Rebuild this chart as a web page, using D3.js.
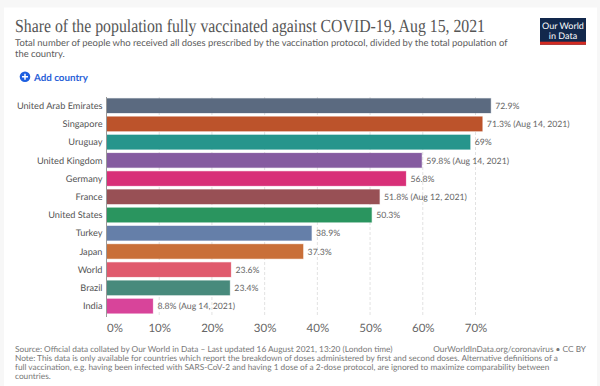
<!DOCTYPE html>
<html>
<head>
<meta charset="utf-8">
<script src="https://cdn.jsdelivr.net/npm/d3@7"></script>
<style>
  html, body { margin: 0; padding: 0; background: #f7f7f7; overflow: hidden; }
  svg { display: block; }
  text { font-family: Lato, "Open Sans", sans-serif; text-rendering: geometricPrecision; }
</style>
</head>
<body>
<svg id="chart" width="600" height="386"></svg>
<script>
const countries = ["United Arab Emirates", "Singapore", "Uruguay", "United Kingdom", "Germany", "France",
  "United States", "Turkey", "Japan", "World", "Brazil", "India"];
const shares = [72.9, 71.3, 69, 59.8, 56.8, 51.8, 50.3, 38.9, 37.3, 23.6, 23.4, 8.8];
const dates = ["", "Aug 14, 2021", "", "Aug 14, 2021", "", "Aug 12, 2021", "", "", "", "", "", "Aug 14, 2021"];
const colors = ["#5b6a80", "#bc532b", "#26958c", "#855ba0", "#d82f78", "#985055",
  "#2a955f", "#657fa9", "#c96f38", "#e05a6d", "#488a7c", "#d8449a"];
const x_ticks = [0, 10, 20, 30, 40, 50, 60, 70];

const note_lines = [
  "Note: This data is only available for countries which report the breakdown of doses administered by first and second doses. Alternative definitions of a",
  "full vaccination, e.g. having been infected with SARS-CoV-2 and having 1 dose of a 2-dose protocol, are ignored to maximize comparability between",
  "countries."
];

const svg = d3.select("#chart");

const d3_x = d3.scaleLinear().domain([0, 70]).range([106.5, 475.5]);
const d3_y = d3.scaleBand().domain(countries).range([96.6, 315.2]).paddingInner(0.2).paddingOuter(0.1);

// card
svg.append("rect")
  .attr("x", 4).attr("y", 7.5).attr("width", 593).attr("height", 379)
  .style("fill", "white");

// header
svg.append("text")
  .attr("x", 15).attr("y", 31.5)
  .attr("textLength", 470).attr("lengthAdjust", "spacingAndGlyphs")
  .style("font-family", "'Liberation Serif', serif")
  .style("font-size", "18.5px")
  .style("fill", "#555")
  .text("Share of the population fully vaccinated against COVID-19, Aug 15, 2021");

const sub = svg.append("g").style("font-size", "9.43px").style("fill", "#5b5b5b");
sub.append("text").attr("x", 15).attr("y", 45.5)
  .text("Total number of people who received all doses prescribed by the vaccination protocol, divided by the total population of");
sub.append("text").attr("x", 15).attr("y", 56.5).text("the country.");

// logo
const logo = svg.append("g");
logo.append("rect").attr("x", 540).attr("y", 18).attr("width", 46).attr("height", 26.7).style("fill", "#12284c");
logo.append("rect").attr("x", 540).attr("y", 41.7).attr("width", 46).attr("height", 3).style("fill", "#d42b21");
logo.selectAll("text").data(["Our World", "in Data"]).join("text")
  .attr("x", 563).attr("y", (d, i) => 28.6 + i * 10.8)
  .style("text-anchor", "middle").style("font-size", "9px").style("fill", "white")
  .text(d => d);

// add country
const add = svg.append("g");
add.append("circle").attr("cx", 25).attr("cy", 76.7).attr("r", 5.3).style("fill", "#1d5fe0");
add.append("path").attr("d", "M22 76.7H28M25 73.7V79.7").style("stroke", "white").style("stroke-width", 1.5);
add.append("text").attr("x", 34).attr("y", 80.5)
  .style("font-size", "9.8px").style("font-weight", "bold").style("fill", "#2a62d8")
  .text("Add country");

// grid
svg.append("g").selectAll("line").data(x_ticks.slice(1)).join("line")
  .attr("x1", d => d3_x(d)).attr("x2", d => d3_x(d))
  .attr("y1", 97).attr("y2", 317)
  .style("stroke", "#e2e2e2").style("stroke-dasharray", "3,2");

// x axis
const x_axis = svg.append("g")
  .attr("transform", "translate(0,321)")
  .call(d3.axisBottom(d3_x).tickValues(x_ticks).tickFormat(d => d + "%").tickSize(0));
x_axis.select(".domain").remove();
x_axis.selectAll("text")
  .style("font-size", "11.5px").style("fill", "#666").style("font-family", "Lato")
  .style("text-anchor", d => d === 0 ? "start" : "middle");

// bars
const bar = svg.append("g").selectAll("g.bar")
  .data(countries.map((name, i) => ({ name, value: shares[i], date: dates[i], color: colors[i] })))
  .join("g")
  .attr("class", "bar")
  .attr("transform", d => "translate(0," + d3_y(d.name) + ")");

bar.append("rect")
  .attr("x", d3_x(0))
  .attr("width", d => d3_x(d.value) - d3_x(0))
  .attr("height", d3_y.bandwidth())
  .style("fill", d => d.color)
  .style("stroke", d => d.color)
  .style("stroke-opacity", 0.3);

bar.append("text")
  .attr("class", "name_label")
  .attr("x", 102.5)
  .attr("y", d3_y.bandwidth() / 2 + 3.2)
  .style("text-anchor", "end")
  .style("font-size", "9.2px")
  .style("fill", "#555")
  .text(d => d.name);

bar.append("text")
  .attr("class", "value_label")
  .attr("x", d => d3_x(d.value) + 4.5)
  .attr("y", d3_y.bandwidth() / 2 + 3.2)
  .style("font-size", "8.7px")
  .style("fill", "#666")
  .text(d => d.value + "%" + (d.date ? " (" + d.date + ")" : ""));

// y axis line
svg.append("line")
  .attr("x1", d3_x(0)).attr("x2", d3_x(0))
  .attr("y1", 97).attr("y2", 317)
  .style("stroke", "#999");

// footer
const foot = svg.append("g").style("font-size", "8.3px").style("fill", "#777");
foot.append("text").attr("x", 15).attr("y", 352)
  .text("Source: Official data collated by Our World in Data \u2013 Last updated 16 August 2021, 13:20 (London time)");
foot.append("text").attr("x", 586).attr("y", 352).style("text-anchor", "end")
  .text("OurWorldInData.org/coronavirus \u2022 CC BY");
foot.selectAll("text.note").data(note_lines).join("text")
  .attr("class", "note")
  .attr("x", 15).attr("y", (d, i) => 361 + i * 9)
  .text(d => d);
</script>
</body>
</html>
